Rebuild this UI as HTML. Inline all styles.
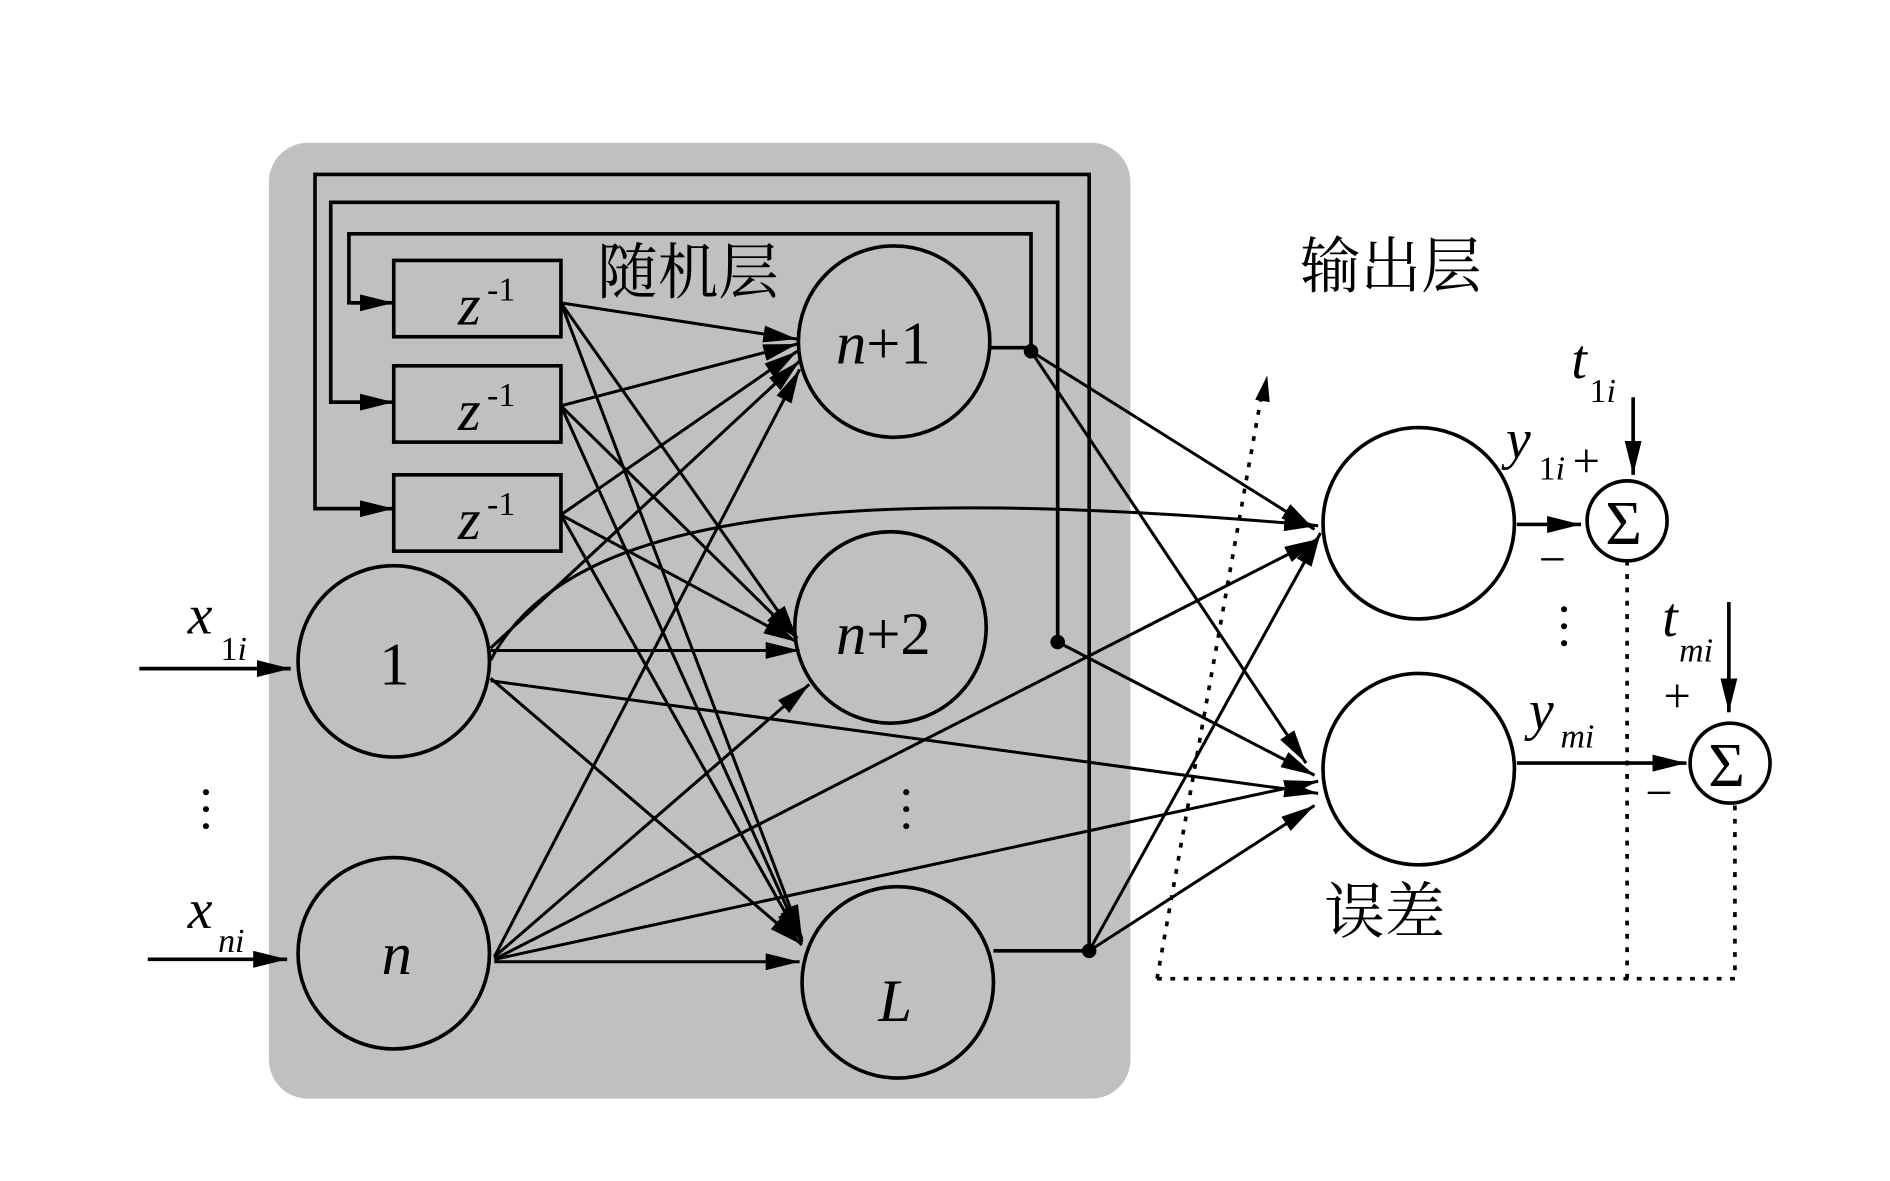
<!DOCTYPE html>
<html><head><meta charset="utf-8"><style>
html,body{margin:0;padding:0;background:#fff;width:1890px;height:1181px;overflow:hidden}
svg{display:block}
text{font-family:"Liberation Serif","Noto Serif CJK SC",serif;fill:#000}
.cn{font-family:"Liberation Serif","Noto Serif CJK SC","Noto Sans CJK SC",serif}
</style></head><body>
<svg width="1890" height="1181" viewBox="0 0 1560 975" preserveAspectRatio="none" xmlns="http://www.w3.org/2000/svg" font-family="Liberation Serif, serif">
<defs>
<marker id="b" viewBox="0 0 10 10" refX="10" refY="5" markerWidth="28" markerHeight="14" markerUnits="userSpaceOnUse" orient="auto" preserveAspectRatio="none"><path d="M0,0 L10,5 L0,10 z" fill="#000"/></marker>
</defs>
<rect width="1560" height="975" fill="#fff"/>
<rect x="222" y="118" width="711" height="789" rx="32" fill="#c0c0c0"/>
<g fill="none" stroke="#000" stroke-width="3">
<polyline points="899,785 899,144 260,144 260,420 300,420"/>
<polyline points="873,530 873,167 273,167 273,332 300,332"/>
<polyline points="851,290 851,193 288,193 288,250 300,250"/>
</g>
<g stroke="#000" stroke-width="3" marker-end="url(#b)">
<line x1="290" y1="250" x2="325" y2="250"/>
<line x1="275" y1="332" x2="325" y2="332"/>
<line x1="262" y1="420" x2="325" y2="420"/>
<line x1="115" y1="552" x2="240" y2="552"/>
<line x1="122" y1="792" x2="237" y2="792"/>
<line x1="1252" y1="433" x2="1305" y2="433"/>
<line x1="1252" y1="630" x2="1392" y2="630"/>
<line x1="1348" y1="328" x2="1348" y2="392"/>
<line x1="1427" y1="497" x2="1427" y2="588"/>
</g>
<g fill="none" stroke="#000" stroke-width="3">
<rect x="325" y="215" width="138" height="63"/>
<rect x="325" y="302" width="138" height="63"/>
<rect x="325" y="392" width="138" height="63"/>
</g>
<g stroke="#000" stroke-width="2.5" fill="none" marker-end="url(#b)">
<line x1="463" y1="250" x2="658" y2="280"/>
<line x1="463" y1="250" x2="658" y2="527"/>
<line x1="463" y1="250" x2="662" y2="775"/>
<line x1="463" y1="335" x2="658" y2="284"/>
<line x1="463" y1="335" x2="658" y2="527"/>
<line x1="463" y1="335" x2="662" y2="777"/>
<line x1="463" y1="425" x2="658" y2="290"/>
<line x1="463" y1="425" x2="658" y2="530"/>
<line x1="463" y1="425" x2="662" y2="778"/>
<line x1="405" y1="535" x2="660" y2="298"/>
<line x1="405" y1="537" x2="660" y2="537"/>
<line x1="405" y1="560" x2="662" y2="780"/>
<line x1="405" y1="562" x2="1088" y2="655"/>
<path d="M405,545 C470,420 700,400 1088,434"/>
<line x1="408" y1="790" x2="660" y2="305"/>
<line x1="408" y1="790" x2="668" y2="565"/>
<line x1="408" y1="792" x2="1088" y2="445"/>
<line x1="408" y1="792" x2="1088" y2="645"/>
<line x1="408" y1="794" x2="660" y2="794"/>
<line x1="851" y1="290" x2="1085" y2="437"/>
<line x1="851" y1="290" x2="1078" y2="630"/>
<line x1="873" y1="530" x2="1085" y2="640"/>
<line x1="899" y1="785" x2="1090" y2="440"/>
<line x1="899" y1="785" x2="1085" y2="665"/>
</g>
<g stroke="#000" stroke-width="3" fill="none">
<line x1="818" y1="287" x2="851" y2="287"/>
<line x1="820" y1="785" x2="899" y2="785"/>
</g>
<g fill="#000"><circle cx="851" cy="290" r="6"/><circle cx="873" cy="530" r="6"/><circle cx="899" cy="785" r="6"/></g>
<g fill="none" stroke="#000" stroke-width="3">
<ellipse cx="738" cy="282" rx="79" ry="79"/>
<ellipse cx="735" cy="518" rx="79" ry="79"/>
<ellipse cx="741" cy="811" rx="79" ry="79"/>
<ellipse cx="325" cy="546" rx="79" ry="79"/>
<ellipse cx="325" cy="787" rx="79" ry="79"/>
</g>
<g fill="#fff" stroke="#000" stroke-width="3">
<ellipse cx="1171" cy="432" rx="79" ry="79"/>
<ellipse cx="1171" cy="635" rx="79" ry="79"/>
<circle cx="1343" cy="430" r="33"/>
<circle cx="1428" cy="630" r="33"/>
</g>
<g stroke="#000" stroke-width="3" fill="none" stroke-dasharray="4,7">
<line x1="955" y1="808" x2="1042" y2="322"/>
<polyline points="955,808 1432,808"/>
<line x1="1343" y1="463" x2="1343" y2="808"/>
<line x1="1432" y1="665" x2="1432" y2="808"/>
</g>
<path d="M1046,310 L1048,332 L1036,330 z" fill="#000"/>
<g font-size="48" font-style="italic">
<text x="378" y="268">z</text><text x="378" y="355">z</text><text x="378" y="445">z</text>
</g>
<g font-size="28"><text x="402" y="248">-1</text><text x="402" y="335">-1</text><text x="402" y="425">-1</text></g>
<text class="cn" x="493" y="242" font-size="50">随机层</text>
<text class="cn" x="1073" y="237" font-size="50">输出层</text>
<text class="cn" x="1093" y="770" font-size="50">误差</text>
<text x="690" y="300" font-size="50"><tspan font-style="italic">n</tspan>+1</text>
<text x="690" y="540" font-size="50"><tspan font-style="italic">n</tspan>+2</text>
<text x="725" y="843" font-size="50" font-style="italic">L</text>
<text x="313" y="565" font-size="50">1</text>
<text x="315" y="804" font-size="50" font-style="italic">n</text>
<text x="155" y="523" font-size="46" font-style="italic">x</text><text x="182" y="545" font-size="28">1<tspan font-style="italic">i</tspan></text>
<text x="155" y="766" font-size="46" font-style="italic">x</text><text x="180" y="786" font-size="28" font-style="italic">ni</text>
<text x="1297" y="312" font-size="46" font-style="italic">t</text><text x="1312" y="332" font-size="28">1<tspan font-style="italic">i</tspan></text>
<text x="1372" y="525" font-size="46" font-style="italic">t</text><text x="1386" y="546" font-size="28" font-style="italic">mi</text>
<text x="1243" y="378" font-size="46" font-style="italic">y</text><text x="1270" y="396" font-size="28">1<tspan font-style="italic">i</tspan></text>
<text x="1298" y="394" font-size="40">+</text>
<text x="1270" y="475" font-size="40">−</text>
<text x="1262" y="602" font-size="46" font-style="italic">y</text><text x="1288" y="617" font-size="28" font-style="italic">mi</text>
<text x="1373" y="588" font-size="40">+</text>
<text x="1358" y="668" font-size="40">−</text>
<text x="1325" y="449" font-size="52">Σ</text>
<text x="1410" y="649" font-size="52">Σ</text>
<g fill="#000">
<circle cx="170" cy="654" r="2.5"/><circle cx="170" cy="668" r="2.5"/><circle cx="170" cy="682" r="2.5"/>
<circle cx="748" cy="654" r="2.5"/><circle cx="748" cy="668" r="2.5"/><circle cx="748" cy="682" r="2.5"/>
<circle cx="1291" cy="503" r="2.5"/><circle cx="1291" cy="517" r="2.5"/><circle cx="1291" cy="531" r="2.5"/>
</g>
</svg>
</body></html>
